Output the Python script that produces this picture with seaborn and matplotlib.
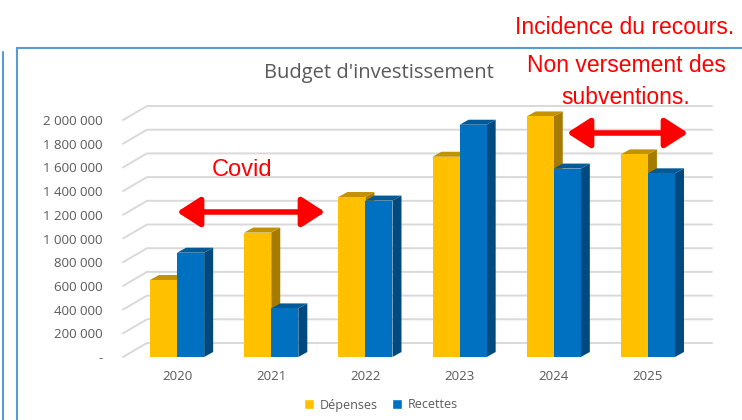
import matplotlib
matplotlib.use("Agg")
import matplotlib.pyplot as plt
import numpy as np
import pandas as pd
import seaborn as sns
from matplotlib.patches import Polygon, Rectangle
from matplotlib.lines import Line2D
from matplotlib.transforms import IdentityTransform

# données du graphique
annees = ["2020", "2021", "2022", "2023", "2024", "2025"]
depenses = [650000, 1050000, 1350000, 1690000, 2030000, 1710000]
recettes = [880000, 410000, 1320000, 1960000, 1590000, 1550000]
series = ["Dépenses", "Recettes"]
couleurs = ["#FFC000", "#0070C0"]
cotes = ["#A67C00", "#004A80"]
dessus = ["#C29200", "#005A98"]
yticks = np.arange(0, 2000001, 200000)

df = pd.DataFrame({
    "Annee": annees * 2,
    "Montant": depenses + recettes,
    "Serie": [series[0]] * len(annees) + [series[1]] * len(annees),
})

sns.set_theme(style="white")
plt.rcParams["font.family"] = ["Open Sans", "DejaVu Sans"]

W, H = 742, 420
fig = plt.figure(figsize=(W / 100, H / 100), dpi=100)
ax = fig.add_axes([130 / W, 63 / H, 565 / W, 237 / H])

sns.barplot(data=df, x="Annee", y="Montant", hue="Serie", palette=couleurs,
            width=0.575, gap=0, saturation=1, ax=ax, legend=False)
ax.set_xlim(-0.5, 5.5)
ax.set_ylim(0, 2000000)
for s in ax.spines.values():
    s.set_visible(False)
ax.set_xlabel("")
ax.set_ylabel("")
ax.set_yticks(yticks)
ax.set_yticklabels(["-"] + [f"{v:,.0f}".replace(",", " ") for v in yticks[1:]])
ax.tick_params(axis="y", length=0, pad=20, labelsize=9.5, labelcolor="#595959")
ax.tick_params(axis="x", length=0, pad=9, labelsize=9.5, labelcolor="#595959")

# quadrillage en perspective (plan arrière)
gx, gy = 24, 14
for v in yticks:
    x0, y0 = ax.transData.transform((-0.5, v))
    x0 -= 7
    x1, _ = ax.transData.transform((5.5, v))
    ax.add_line(Line2D([x0, x0 + gx, x1 + gx - 7], [y0, y0 + gy, y0 + gy],
                       transform=IdentityTransform(), color="#D9D9D9",
                       lw=1.4, zorder=0.5, clip_on=False))

# faces 3D des barres
dx, dy = 9, 5
n = len(annees)
for i, p in enumerate(ax.patches[:2 * n]):
    k = i // n
    (xa, ya), (xb, yb) = ax.transData.transform(
        [(p.get_x(), 0), (p.get_x() + p.get_width(), p.get_height())])
    z = 3 + 1.5 * k
    p.set_zorder(z)
    p.set_linewidth(0)
    p.set_clip_on(False)
    side = [(xb, ya), (xb + dx, ya + dy), (xb + dx, yb + dy), (xb, yb)]
    top = [(xa, yb), (xa + dx, yb + dy), (xb + dx, yb + dy), (xb, yb)]
    ax.add_patch(Polygon(side, closed=True, transform=IdentityTransform(),
                         facecolor=cotes[k], lw=0, zorder=z - 0.5, clip_on=False))
    ax.add_patch(Polygon(top, closed=True, transform=IdentityTransform(),
                         facecolor=dessus[k], lw=0, zorder=z - 0.5, clip_on=False))

fig.text(379 / W, 1 - 73 / H, "Budget d'investissement", ha="center",
         va="center", fontsize=14.5, color="#595959")

handles = [Rectangle((0, 0), 1, 1, facecolor=c) for c in couleurs]
fig.legend(handles, series, loc="center", bbox_to_anchor=(381 / W, 1 - 405 / H),
           ncol=2, frameon=False, fontsize=9, labelcolor="#595959",
           handlelength=0.8, handleheight=0.8, columnspacing=1.2,
           handletextpad=0.4)

# cadres
fig.add_artist(Rectangle((17 / W, -0.1), 1.1, 1 - 48 / H + 0.1,
                         transform=fig.transFigure, fill=False,
                         edgecolor="#5B9BD5", lw=1.5))
fig.add_artist(Line2D([3 / W, 3 / W], [0, 1 - 52 / H], transform=fig.transFigure,
                      color="#5B9BD5", lw=1.5))

# annotations
rouge = "#FF0000"
police = ["Liberation Sans", "DejaVu Sans"]
fig.text(242 / W, 1 - 170 / H, "Covid", ha="center", va="center",
         fontsize=17, color=rouge, family=police)
fig.text(625 / W, 1 - 28 / H, "Incidence du recours.", ha="center",
         va="center", fontsize=16.5, color=rouge, family=police)
fig.text(626 / W, 1 - 65 / H, "Non versement des", ha="center",
         va="center", fontsize=16.5, color=rouge, family=police)
fig.text(626 / W, 1 - 97 / H, "subventions.", ha="center",
         va="center", fontsize=16.5, color=rouge, family=police)

for (xa, xb, yy) in [(177, 325, 212), (567, 688, 133)]:
    fig.add_artist(matplotlib.patches.FancyArrowPatch(
        (xa / W, 1 - yy / H), (xb / W, 1 - yy / H), transform=fig.transFigure,
        arrowstyle="<|-|>,head_length=0.7,head_width=0.45", mutation_scale=20,
        color=rouge, lw=4, shrinkA=0, shrinkB=0))

fig.savefig("out.png", dpi=100)
